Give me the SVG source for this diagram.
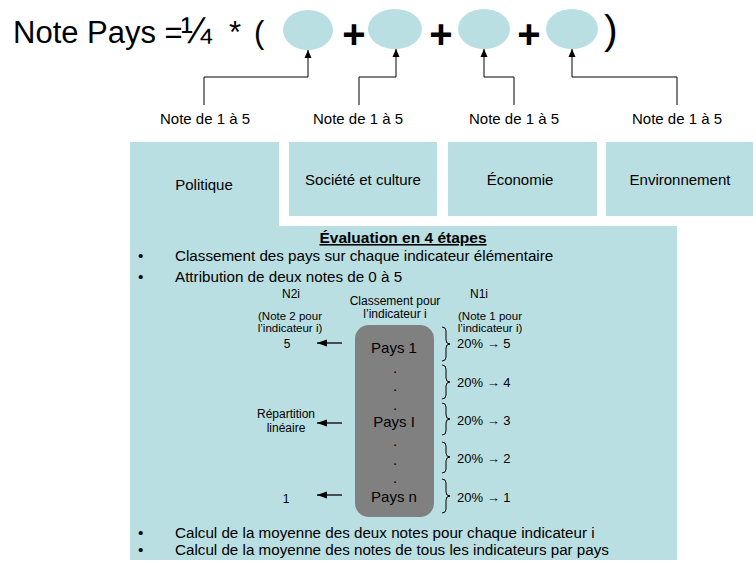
<svg xmlns="http://www.w3.org/2000/svg" width="756" height="563" viewBox="0 0 756 563">
  <defs>
    <style>
      text { font-family: "Liberation Sans", Arial, sans-serif; fill: #000; }
      .box { fill: #BADFE2; }
      .oval { fill: #BADFE2; }
      .lbl { font-size: 15px; text-anchor: middle; }
      .plus { font-size: 40px; font-weight: bold; text-anchor: middle; }
      .conn { fill: none; stroke: #000; stroke-width: 1; }
      .small { font-size: 12px; text-anchor: middle; }
      .note { font-size: 11.5px; text-anchor: middle; }
      .mid { font-size: 12px; text-anchor: middle; }
      .pays { font-size: 15px; text-anchor: middle; }
      .pct { font-size: 13px; }
      .bullet { font-size: 15.2px; }
      .brace { fill: none; stroke: #000; stroke-width: 1; }
      .arrowl { fill: none; stroke: #000; stroke-width: 1.3; }
    </style>
    <marker id="tip" viewBox="0 0 8 8" refX="8" refY="4" markerWidth="8" markerHeight="8" markerUnits="userSpaceOnUse" orient="auto">
      <path d="M0,0.5 L8,4 L0,7.5 Z" fill="#000"/>
    </marker>
    <marker id="tipL" viewBox="0 0 10 8" refX="10" refY="4" markerWidth="10" markerHeight="8" markerUnits="userSpaceOnUse" orient="auto">
      <path d="M0,0.5 L10,4 L0,7.5 Z" fill="#000"/>
    </marker>
  </defs>

  <!-- Formula line -->
  <g id="formula">
    <text x="13" y="43" font-size="31">Note Pays =</text>
    <text x="181" y="43" font-size="37">¼</text>
    <text x="229" y="43" font-size="31">*</text>
    <text x="254" y="43" font-size="31">(</text>
    <text class="plus" x="354" y="48">+</text>
    <text class="plus" x="441" y="48">+</text>
    <text class="plus" x="529" y="48">+</text>
    <text x="604" y="44" font-size="41">)</text>
  </g>

  <g id="oval-politique"><ellipse class="oval" cx="308" cy="30" rx="25" ry="20"/></g>
  <g id="oval-societe"><ellipse class="oval" cx="395" cy="29" rx="27" ry="20"/></g>
  <g id="oval-economie"><ellipse class="oval" cx="484" cy="29" rx="26" ry="20"/></g>
  <g id="oval-environnement"><ellipse class="oval" cx="572" cy="29" rx="26" ry="20"/></g>

  <!-- Connectors from the score labels to the ovals -->
  <g id="connectors">
    <path class="conn" d="M204,105 V77 H308 V50" marker-end="url(#tip)"/>
    <path class="conn" d="M359,105 V77 H396 V49" marker-end="url(#tip)"/>
    <path class="conn" d="M514,105 V77 H484 V49" marker-end="url(#tip)"/>
    <path class="conn" d="M677,105 V77 H572 V49" marker-end="url(#tip)"/>
  </g>

  <g id="label-1"><text class="lbl" x="205" y="124">Note de 1 à 5</text></g>
  <g id="label-2"><text class="lbl" x="358" y="124">Note de 1 à 5</text></g>
  <g id="label-3"><text class="lbl" x="514" y="124">Note de 1 à 5</text></g>
  <g id="label-4"><text class="lbl" x="677" y="124">Note de 1 à 5</text></g>

  <!-- Category boxes -->
  <g id="box-politique">
    <rect class="box" x="130" y="142" width="149" height="90"/>
    <text class="lbl" x="204" y="190">Politique</text>
  </g>
  <g id="box-societe">
    <rect class="box" x="289" y="142" width="148" height="74"/>
    <text class="lbl" x="363" y="185">Société et culture</text>
  </g>
  <g id="box-economie">
    <rect class="box" x="448" y="142" width="149" height="74"/>
    <text class="lbl" x="520" y="185">Économie</text>
  </g>
  <g id="box-environnement">
    <rect class="box" x="606" y="142" width="147" height="74"/>
    <text class="lbl" x="680" y="185">Environnement</text>
  </g>

  <!-- Evaluation panel -->
  <g id="evaluation">
    <rect class="box" x="130" y="226" width="547" height="334"/>
    <text x="403" y="243" font-size="15.5" font-weight="bold" text-anchor="middle" text-decoration="underline">Évaluation en 4 étapes</text>
    <text class="bullet" x="138" y="261">•</text>
    <text class="bullet" x="175" y="261">Classement des pays sur chaque indicateur élémentaire</text>
    <text class="bullet" x="138" y="282">•</text>
    <text class="bullet" x="175" y="282">Attribution de deux notes de 0 à 5</text>

    <text class="small" x="291" y="298">N2i</text>
    <text class="small" x="479" y="298">N1i</text>
    <text class="mid" x="395" y="305">Classement pour</text>
    <text class="mid" x="395" y="318">l’indicateur i</text>
    <text class="note" x="290" y="320">(Note 2 pour</text>
    <text class="note" x="290" y="332">l’indicateur i)</text>
    <text class="note" x="490" y="320">(Note 1 pour</text>
    <text class="note" x="490" y="332">l’indicateur i)</text>

    <text class="small" x="287" y="348">5</text>
    <text class="small" x="286" y="418">Répartition</text>
    <text class="small" x="286" y="432">linéaire</text>
    <text class="small" x="286" y="503">1</text>

    <line class="arrowl" x1="342" y1="343" x2="317" y2="343" marker-end="url(#tipL)"/>
    <line class="arrowl" x1="342" y1="423" x2="317" y2="423" marker-end="url(#tipL)"/>
    <line class="arrowl" x1="342" y1="495" x2="317" y2="495" marker-end="url(#tipL)"/>
  </g>

  <g id="ranking">
    <rect x="355" y="325" width="79" height="192" rx="14" ry="14" fill="#808080"/>
    <text class="pays" x="394" y="353">Pays 1</text>
    <text class="pays" x="395" y="373">.</text>
    <text class="pays" x="395" y="391">.</text>
    <text class="pays" x="395" y="410">.</text>
    <text class="pays" x="394" y="427">Pays I</text>
    <text class="pays" x="395" y="446">.</text>
    <text class="pays" x="395" y="465">.</text>
    <text class="pays" x="395" y="483">.</text>
    <text class="pays" x="394" y="502">Pays n</text>
  </g>

  <g id="quintiles">
    <path class="brace" d="M442,327 q4,0 4,4 v9 q0,4 4,4 q-4,0 -4,4 v9 q0,4 -4,4"/>
    <path class="brace" d="M442,365 q4,0 4,4 v9 q0,4 4,4 q-4,0 -4,4 v9 q0,4 -4,4"/>
    <path class="brace" d="M442,403 q4,0 4,4 v8 q0,4 4,4 q-4,0 -4,4 v8 q0,4 -4,4"/>
    <path class="brace" d="M442,442 q4,0 4,4 v7 q0,4 4,4 q-4,0 -4,4 v8 q0,4 -4,4"/>
    <path class="brace" d="M442,479 q4,0 4,4 v9 q0,4 4,4 q-4,0 -4,4 v9 q0,4 -4,4"/>
    <text class="pct" x="457" y="348">20% → 5</text>
    <text class="pct" x="457" y="387">20% → 4</text>
    <text class="pct" x="457" y="425">20% → 3</text>
    <text class="pct" x="457" y="463">20% → 2</text>
    <text class="pct" x="457" y="502">20% → 1</text>
  </g>

  <g id="final-steps">
    <text class="bullet" x="138" y="538">•</text>
    <text class="bullet" x="175" y="538">Calcul de la moyenne des deux notes pour chaque indicateur i</text>
    <text class="bullet" x="138" y="555">•</text>
    <text class="bullet" x="175" y="555">Calcul de la moyenne des notes de tous les indicateurs par pays</text>
  </g>
</svg>
